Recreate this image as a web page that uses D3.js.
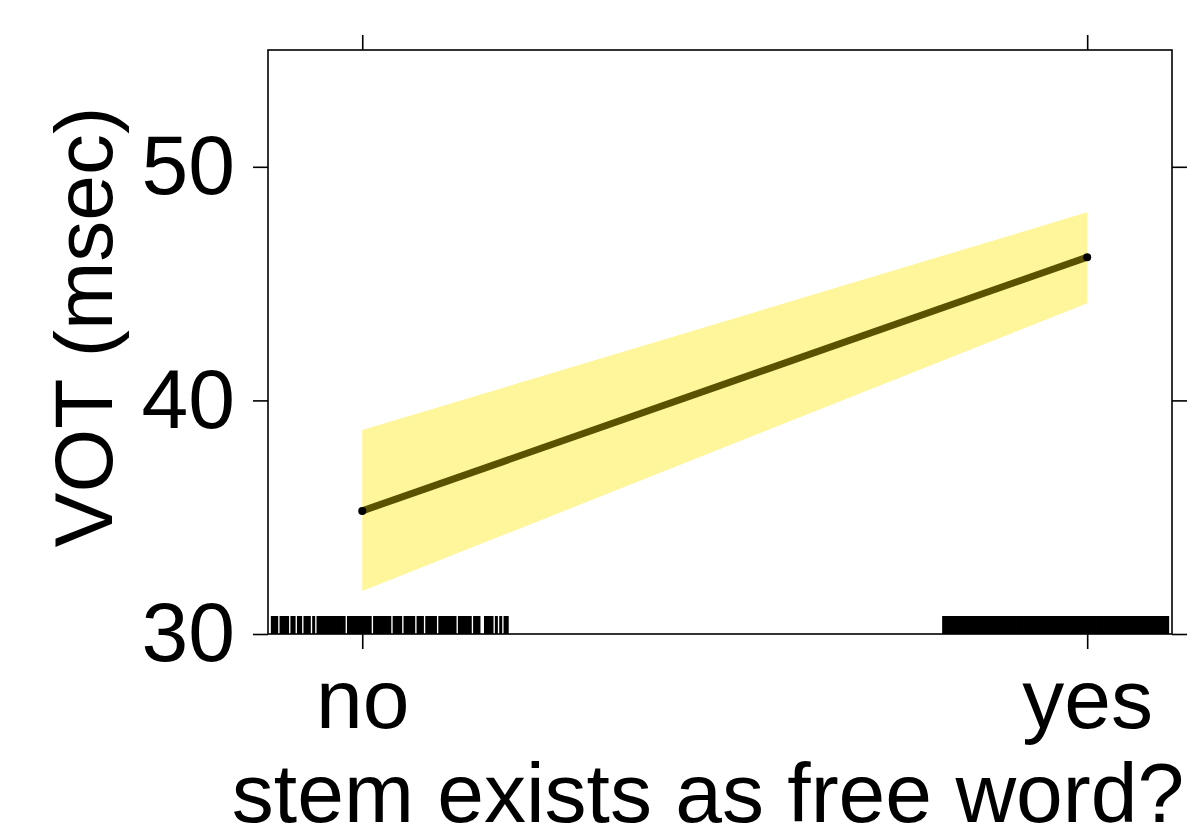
<!DOCTYPE html>
<html>
<head>
<meta charset="utf-8">
<script src="https://cdn.jsdelivr.net/npm/d3@7"></script>
<style>
  body { margin: 0; background: #fff; }
  svg { display: block; font-family: "Liberation Sans", Arial, sans-serif; }
</style>
</head>
<body>
<div id="chart"></div>
<script>
// effect of "stem exists as free word?" on VOT

var categories = ["no", "yes"];
var fit   = [35.27, 46.13];
var lower = [31.84, 44.16];
var upper = [38.73, 48.05];
var yTicks = [30, 40, 50];

// rug marks (jittered observations, x in factor units)
var rugNo = [
  0.876, 0.879, 0.882, 0.888, 0.891, 0.894, 0.897, 0.903, 0.906, 0.912,
  0.915, 0.921, 0.924, 0.927, 0.933, 0.939, 0.942, 0.945, 0.948, 0.951,
  0.954, 0.957, 0.960, 0.963, 0.966, 0.969, 0.972, 0.975, 0.981, 0.984,
  0.987, 0.990, 0.993, 0.996, 0.999, 1.002, 1.005, 1.008, 1.011, 1.017,
  1.020, 1.023, 1.026, 1.029, 1.032, 1.035, 1.038, 1.044, 1.047, 1.050,
  1.053, 1.059, 1.062, 1.065, 1.068, 1.071, 1.077, 1.080, 1.083, 1.089,
  1.092, 1.095, 1.098, 1.101, 1.107, 1.110, 1.113, 1.116, 1.119, 1.122,
  1.125, 1.128, 1.134, 1.137, 1.140, 1.143, 1.146, 1.149, 1.155, 1.158,
  1.161, 1.170, 1.173, 1.176, 1.179, 1.185, 1.191, 1.197, 1.200
];
var rugYes = [
  1.802, 1.805, 1.808, 1.811, 1.814, 1.817, 1.820, 1.823, 1.826, 1.829,
  1.832, 1.835, 1.838, 1.841, 1.844, 1.847, 1.850, 1.853, 1.856, 1.859,
  1.862, 1.865, 1.868, 1.871, 1.874, 1.877, 1.880, 1.883, 1.886, 1.889,
  1.892, 1.895, 1.898, 1.901, 1.904, 1.907, 1.910, 1.913, 1.916, 1.919,
  1.922, 1.925, 1.928, 1.931, 1.934, 1.937, 1.940, 1.943, 1.946, 1.949,
  1.952, 1.955, 1.958, 1.961, 1.964, 1.967, 1.970, 1.973, 1.976, 1.979,
  1.982, 1.985, 1.988, 1.991, 1.994, 1.997, 2.000, 2.003, 2.006, 2.009,
  2.012, 2.015, 2.018, 2.021, 2.024, 2.027, 2.030, 2.033, 2.036, 2.039,
  2.042, 2.045, 2.048, 2.051, 2.054, 2.057, 2.060, 2.063, 2.066, 2.069,
  2.072, 2.075, 2.078, 2.081, 2.084, 2.087, 2.090, 2.093, 2.096, 2.099,
  2.102, 2.105, 2.108, 2.111
];

var W = 1196, H = 828;
var panel = {left: 268, right: 1172, top: 50, bottom: 634};

var svg = d3.select("#chart").append("svg")
    .attr("width", W)
    .attr("height", H);

svg.append("rect").attr("width", W).attr("height", H).attr("fill", "#fff");

// factor levels sit at 1 and 2 on a numeric axis
var x = d3.scaleLinear()
    .domain([0.87, 2.117])
    .range([panel.left, panel.right]);

var y = d3.scaleLinear()
    .domain([30, 55])
    .range([panel.bottom, panel.top]);

var rows = categories.map(function (c, i) {
  return {x: i + 1, fit: fit[i], lo: lower[i], hi: upper[i]};
});

svg.append("clipPath").attr("id", "clip")
  .append("rect")
    .attr("x", panel.left).attr("y", panel.top)
    .attr("width", panel.right - panel.left)
    .attr("height", panel.bottom - panel.top);

var plot = svg.append("g").attr("clip-path", "url(#clip)");

// confidence band
plot.append("path")
    .datum(rows)
    .attr("fill", "#fff59a")
    .attr("d", d3.area()
      .x(function (d) { return x(d.x); })
      .y0(function (d) { return y(d.lo); })
      .y1(function (d) { return y(d.hi); }));

// fitted line
plot.append("path")
    .datum(rows)
    .attr("fill", "none")
    .attr("stroke", "#5a5200")
    .attr("stroke-width", 7)
    .attr("d", d3.line()
      .x(function (d) { return x(d.x); })
      .y(function (d) { return y(d.fit); }));

plot.selectAll(".pt")
    .data(rows)
    .enter().append("circle")
      .attr("cx", function (d) { return x(d.x); })
      .attr("cy", function (d) { return y(d.fit); })
      .attr("r", 4)
      .attr("fill", "#000");

// rug
var rugLen = 18;
plot.selectAll(".rug")
    .data(rugNo.concat(rugYes))
    .enter().append("line")
      .attr("x1", function (d) { return x(d); })
      .attr("x2", function (d) { return x(d); })
      .attr("y1", panel.bottom)
      .attr("y2", panel.bottom - rugLen)
      .attr("stroke", "#000")
      .attr("stroke-width", 3);

// panel frame
svg.append("rect")
    .attr("x", panel.left).attr("y", panel.top)
    .attr("width", panel.right - panel.left)
    .attr("height", panel.bottom - panel.top)
    .attr("fill", "none")
    .attr("stroke", "#000")
    .attr("stroke-width", 1.6);

var fontSize = 84;

function styleAxis(g) {
  g.select(".domain").remove();
  g.selectAll(".tick line").attr("stroke", "#000").attr("stroke-width", 1.6);
  g.selectAll(".tick text").attr("fill", "#000")
    .style("font-size", fontSize + "px")
    .style("font-family", '"Liberation Sans", Arial, sans-serif');
}

// left axis
svg.append("g")
    .attr("transform", "translate(" + panel.left + ",0)")
    .call(d3.axisLeft(y).tickValues(yTicks).tickSize(15).tickPadding(18))
    .call(styleAxis);

// right axis, ticks only
svg.append("g")
    .attr("transform", "translate(" + panel.right + ",0)")
    .call(d3.axisRight(y).tickValues(yTicks).tickSize(15).tickFormat(""))
    .call(styleAxis);

// bottom axis
svg.append("g")
    .attr("transform", "translate(0," + panel.bottom + ")")
    .call(d3.axisBottom(x).tickValues([1, 2]).tickSize(15).tickPadding(19)
      .tickFormat(function (d) { return categories[d - 1]; }))
    .call(styleAxis);

// top axis, ticks only
svg.append("g")
    .attr("transform", "translate(0," + panel.top + ")")
    .call(d3.axisTop(x).tickValues([1, 2]).tickSize(15).tickFormat(""))
    .call(styleAxis);

// axis titles
svg.append("text")
    .attr("transform", "translate(112,327) rotate(-90)")
    .attr("text-anchor", "middle")
    .style("font-size", "82px")
    .text("VOT (msec)");

svg.append("text")
    .attr("x", 708)
    .attr("y", 822)
    .attr("text-anchor", "middle")
    .style("font-size", "84px")
    .text("stem exists as free word?");
</script>
</body>
</html>
